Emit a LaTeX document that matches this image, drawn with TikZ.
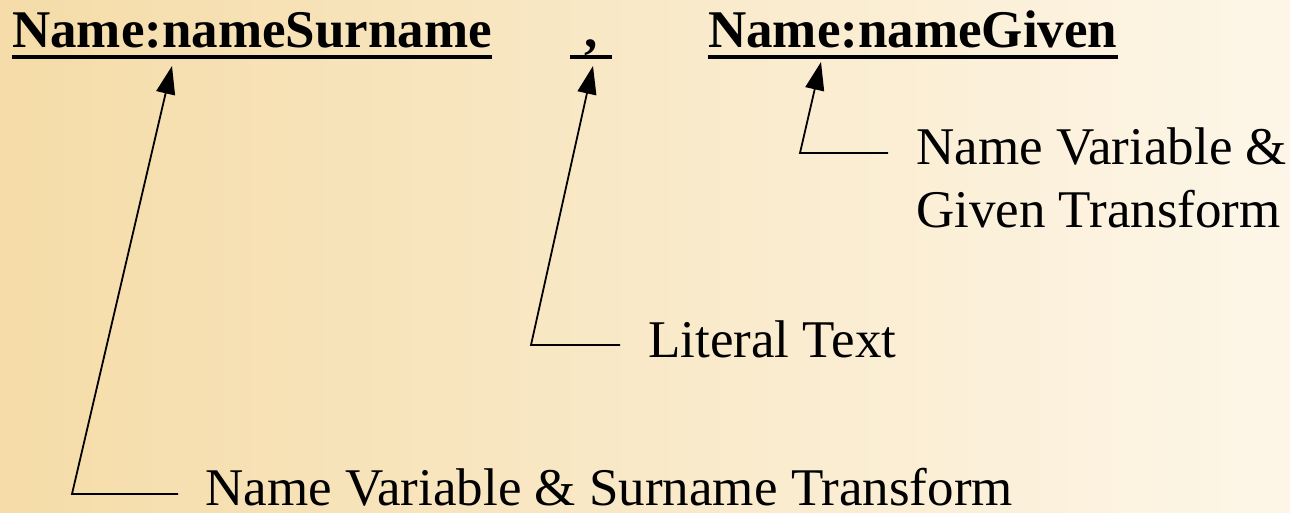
\documentclass[tikz,border=0pt]{standalone}
\usepackage{fontspec}
\setmainfont{Liberation Serif}
\usetikzlibrary{arrows.meta}
\definecolor{bgleft}{RGB}{245,220,168}
\definecolor{bgright}{RGB}{253,246,232}
\begin{document}
\begin{tikzpicture}[x=1pt,y=-1pt,
  head/.style={inner sep=0pt,anchor=base west,font=\fontsize{53}{60}\selectfont\bfseries},
  lab/.style={inner sep=0pt,anchor=base west,align=left,font=\fontsize{53}{63}\selectfont},
  uline/.style={line width=3.5pt},
  conn/.style={line width=1.8pt,-{Triangle[length=28pt,width=19pt]}}]
\shade[left color=bgleft,right color=bgright] (0,0) rectangle (1290,513);
\useasboundingbox (0,0) rectangle (1290,513);
% headings
\node[head] (sur) at (12,48) {Name:nameSurname};
\node[head,anchor=base,minimum width=42pt] (comma) at (591,48) {,};
\node[head] (giv) at (708,48) {Name:nameGiven};
\draw[uline] (sur.west |- 0,57) -- (sur.east |- 0,57);
\draw[uline] (comma.west |- 0,57) -- (comma.east |- 0,57);
\draw[uline] (giv.west |- 0,57) -- (giv.east |- 0,57);
% labels
\node[lab] (l1) at (205,505) {Name Variable \& Surname Transform};
\node[lab] (l2) at (648,357) {Literal Text};
\node[lab] (l3) at (916,228) {Name Variable \&\\Given Transform};
% corners and tips
\coordinate (c1) at (72,494);
\coordinate (t1) at (172,66);
\coordinate (c2) at (531,345);
\coordinate (t2) at (593,66);
\coordinate (c3) at (800,153);
\coordinate (t3) at (821,62);
\draw[conn] ([xshift=-27pt]l1.west |- c1) -- (c1) -- (t1);
\draw[conn] ([xshift=-28pt]l2.west |- c2) -- (c2) -- (t2);
\draw[conn] (l3.west |- c3) ++(-28,0) -- (c3) -- (t3);
\end{tikzpicture}
\end{document}
